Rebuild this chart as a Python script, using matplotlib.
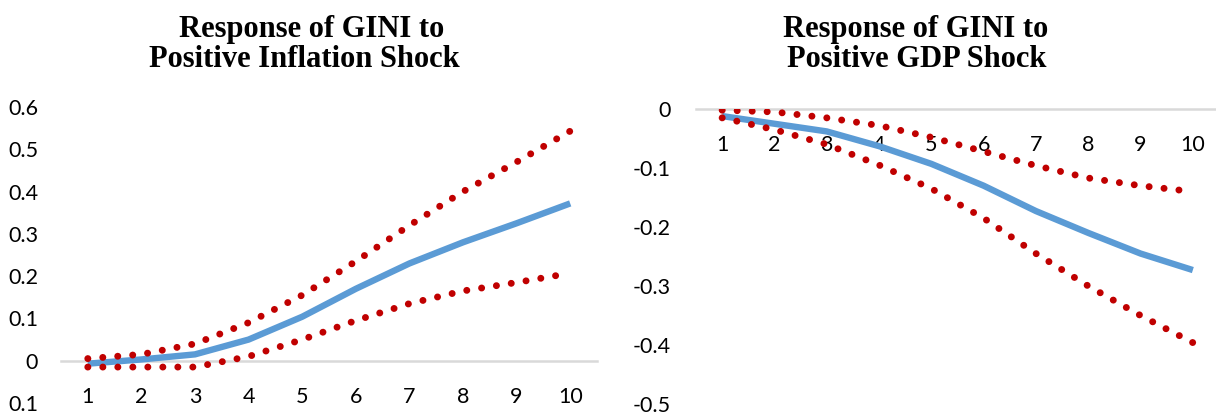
import matplotlib.pyplot as plt
from matplotlib.ticker import FixedLocator

periods = [1, 2, 3, 4, 5, 6, 7, 8, 9, 10]

# Response of GINI to positive inflation shock
infl_mid = [-0.007, 0.003, 0.015, 0.05, 0.104, 0.17, 0.23, 0.28, 0.325, 0.372]
infl_up = [0.005, 0.015, 0.04, 0.09, 0.155, 0.235, 0.32, 0.40, 0.47, 0.543]
infl_lo = [-0.015, -0.015, -0.015, 0.01, 0.05, 0.095, 0.135, 0.165, 0.185, 0.207]

# Response of GINI to positive GDP shock
gdp_mid = [-0.012, -0.025, -0.038, -0.063, -0.093, -0.13, -0.173, -0.21, -0.245, -0.273]
gdp_up = [-0.002, -0.005, -0.015, -0.028, -0.048, -0.072, -0.096, -0.117, -0.13, -0.14]
gdp_lo = [-0.015, -0.035, -0.06, -0.095, -0.135, -0.185, -0.245, -0.30, -0.35, -0.396]

infl_yticks = [-0.1, 0, 0.1, 0.2, 0.3, 0.4, 0.5, 0.6]
infl_ylabels = ['0.1', '0', '0.1', '0.2', '0.3', '0.4', '0.5', '0.6']
gdp_yticks = [-0.5, -0.4, -0.3, -0.2, -0.1, 0]
gdp_ylabels = ['-0.5', '-0.4', '-0.3', '-0.2', '-0.1', '0']

BLUE = '#5B9BD5'
RED = '#C00000'
W, H = 1216, 412

fig = plt.figure(figsize=(W / 100, H / 100), dpi=100)


def draw_panel(rect, mid, up, lo, ylim, yticks, ylabels, ypad):
    ax = fig.add_axes(rect)
    ax.plot(periods, mid, color=BLUE, lw=4.6, solid_capstyle='butt', zorder=2)
    for s in (up, lo):
        ax.plot(periods, s, color=RED, lw=5, dash_capstyle='round',
                linestyle=(0, (0.01, 2.15)), zorder=3)
    ax.set_xlim(0.5, 10.5)
    ax.set_ylim(*ylim)
    for side in ('top', 'right', 'left'):
        ax.spines[side].set_visible(False)
    ax.spines['bottom'].set_position(('data', 0))
    ax.spines['bottom'].set_color('#D9D9D9')
    ax.spines['bottom'].set_linewidth(1.8)
    ax.spines['bottom'].set_zorder(1)
    ax.set_xticks(periods)
    ax.set_xticklabels([str(p) for p in periods])
    ax.yaxis.set_major_locator(FixedLocator(yticks))
    ax.set_yticklabels(ylabels)
    ax.tick_params(axis='x', length=0, pad=19, labelsize=15.5)
    ax.tick_params(axis='y', length=0, pad=ypad, labelsize=15.5)
    for lab in ax.get_xticklabels() + ax.get_yticklabels():
        lab.set_fontfamily('Lato')
    ax.set_facecolor('none')
    return ax


def px_rect(x0, x1, ytop, ybot):
    return [x0 / W, 1 - ybot / H, (x1 - x0) / W, (ybot - ytop) / H]


draw_panel(px_rect(61, 597, 107, 403), infl_mid, infl_up, infl_lo,
           (-0.1, 0.6), infl_yticks, infl_ylabels, 16.5)
draw_panel(px_rect(696, 1219, 109, 404), gdp_mid, gdp_up, gdp_lo,
           (-0.5, 0.0), gdp_yticks, gdp_ylabels, 18.5)

title_kw = dict(ha='center', va='baseline', fontsize=22, fontweight='bold',
                family='Liberation Serif')
fig.text(312 / W, 1 - 37 / H, 'Response of GINI to', **title_kw)
fig.text(304 / W, 1 - 67 / H, 'Positive Inflation Shock', **title_kw)
fig.text(916 / W, 1 - 37 / H, 'Response of GINI to', **title_kw)
fig.text(917 / W, 1 - 67 / H, 'Positive GDP Shock', **title_kw)

fig.savefig('out.png', dpi=100)
